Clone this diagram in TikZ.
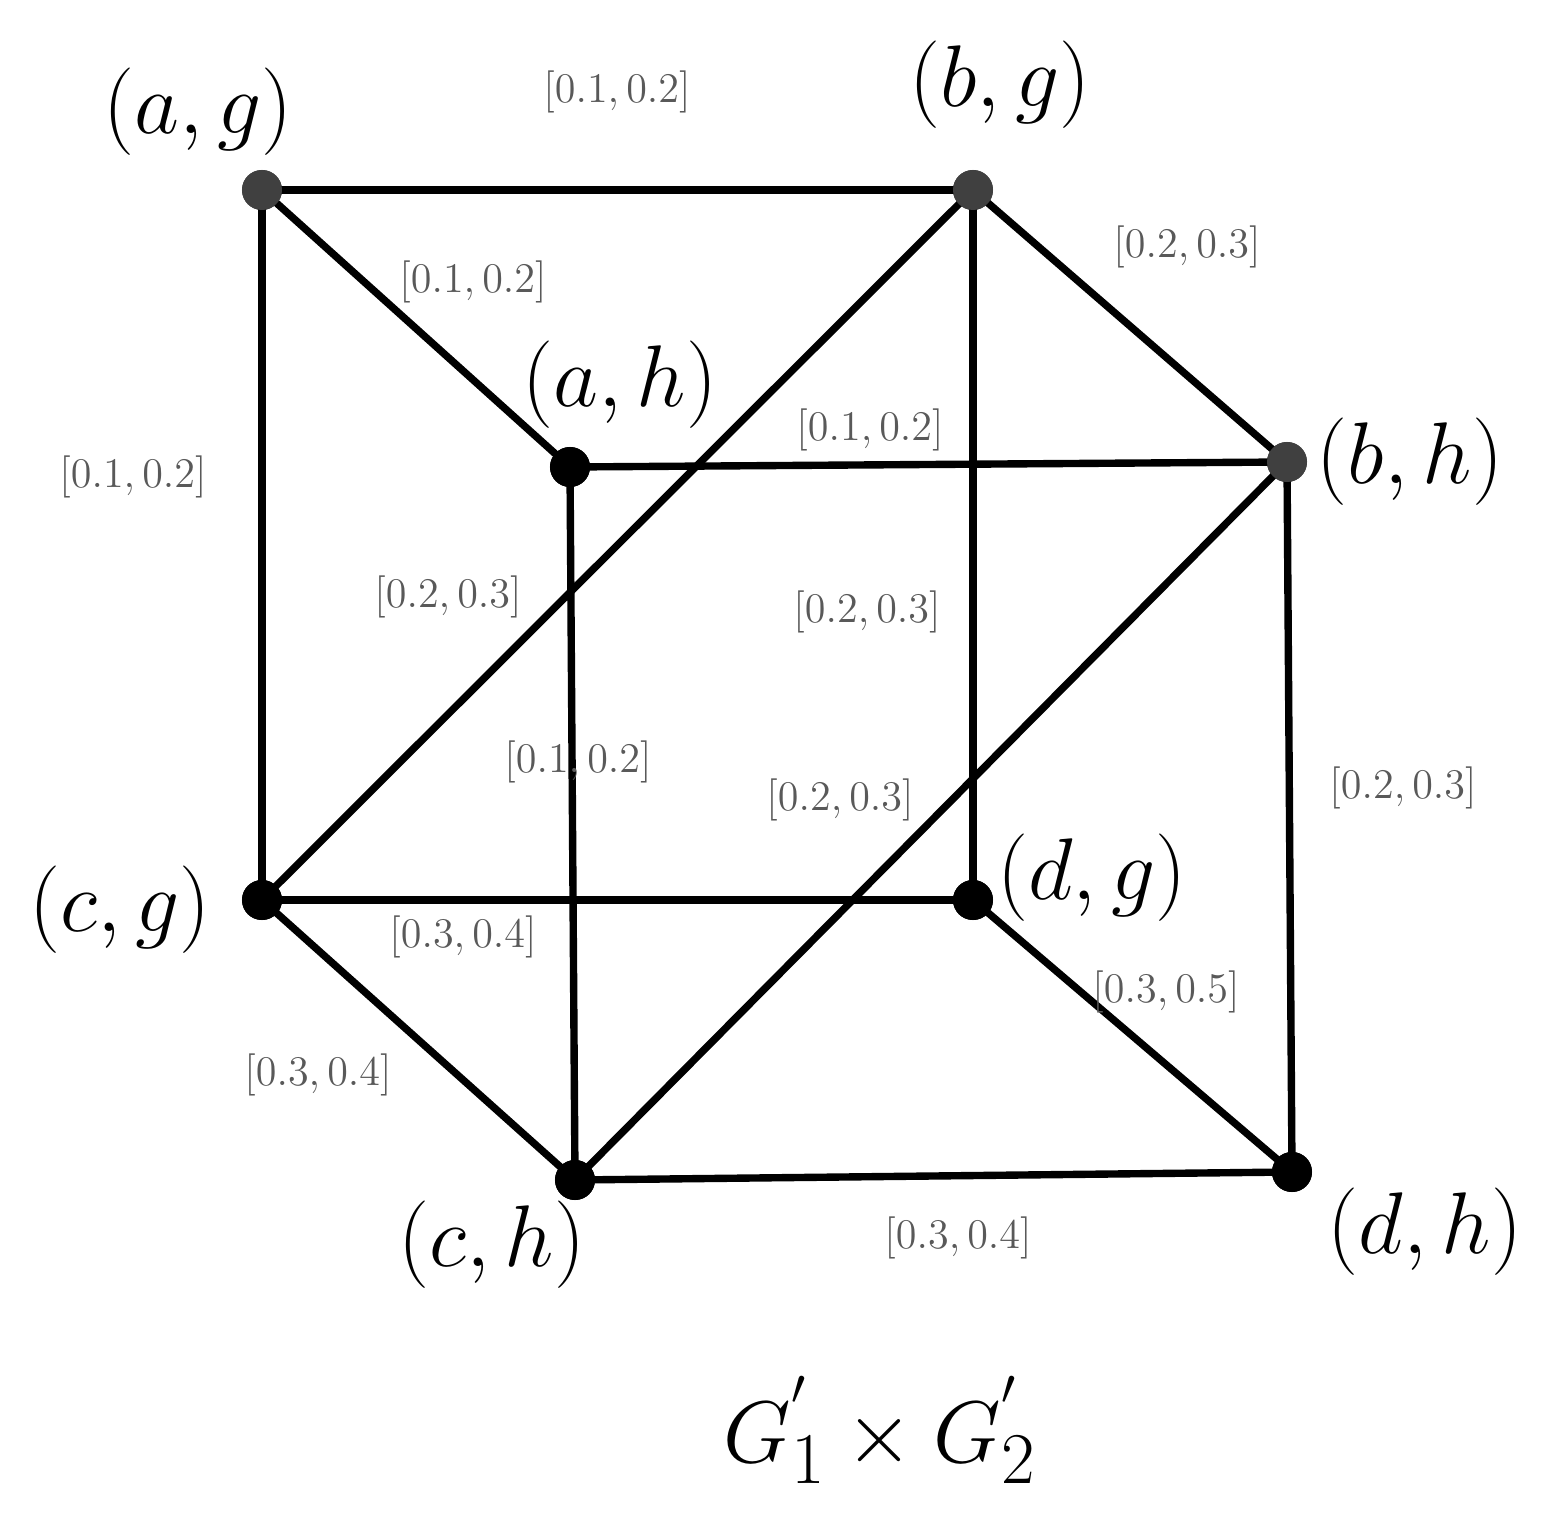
\documentclass[tikz,border=0pt]{standalone}
\begin{document}
\begin{tikzpicture}[x=0.01cm,y=-0.01cm,
 vtx/.style={circle,inner sep=0pt,minimum size=0.4cm},
 vl/.style={font=\fontsize{26}{30}\selectfont},
 el/.style={font=\fontsize{12.5}{14}\selectfont,text=black!65},
 edge/.style={line width=2.1pt}]
\useasboundingbox (0,0) rectangle (1551,1519);
\node[vtx,fill=black!75] (ag) at (262,190) {};
\node[vtx,fill=black!75] (bg) at (973,190) {};
\node[vtx,fill=black] (ah) at (570,467) {};
\node[vtx,fill=black!75] (bh) at (1287,462) {};
\node[vtx,fill=black] (cg) at (262,900) {};
\node[vtx,fill=black] (dg) at (973,900) {};
\node[vtx,fill=black] (ch) at (575,1180) {};
\node[vtx,fill=black] (dh) at (1292,1172) {};
\begin{scope}[on background layer/.style={}]
\foreach \u/\v in {ag/bg,ag/ah,ag/cg,bg/cg,bg/bh,bg/dg,ah/bh,ah/ch,bh/ch,bh/dh,cg/dg,cg/ch,dg/dh,ch/dh}
  \draw[edge] (\u.center) -- (\v.center);
\end{scope}
\foreach \n in {ag,bg,bh}{\fill[black!75] (\n) circle (0.2cm);}
\foreach \n in {ah,cg,dg,ch,dh}{\fill[black] (\n) circle (0.2cm);}
\node[vl] (lag) at (198,112) {$(a,g)$};
\node[vl] (lbg) at (1000,85) {$(b,g)$};
\node[vl] (lah) at (620,385) {$(a,h)$};
\node[vl] (lbh) at (1410,462) {$(b,h)$};
\node[vl] (lcg) at (120,910) {$(c,g)$};
\node[vl] (ldg) at (1092,878) {$(d,g)$};
\node[vl] (lch) at (492,1245) {$(c,h)$};
\node[vl] (ldh) at (1425,1232) {$(d,h)$};
\node[el] (e1) at (617,92) {$[0.1,0.2]$};
\node[el] (e2) at (473,282) {$[0.1,0.2]$};
\node[el] (e3) at (133,477) {$[0.1,0.2]$};
\node[el] (e4) at (870,430) {$[0.1,0.2]$};
\node[el] (e5) at (448,597) {$[0.2,0.3]$};
\node[el] (e6) at (867,612) {$[0.2,0.3]$};
\node[el] (e7) at (578,762) {$[0.1,0.2]$};
\node[el] (e8) at (840,800) {$[0.2,0.3]$};
\node[el] (e9) at (463,937) {$[0.3,0.4]$};
\node[el] (e10) at (318,1075) {$[0.3,0.4]$};
\node[el] (e11) at (1187,247) {$[0.2,0.3]$};
\node[el] (e12) at (1403,788) {$[0.2,0.3]$};
\node[el] (e13) at (1166,992) {$[0.3,0.5]$};
\node[el] (e14) at (958,1238) {$[0.3,0.4]$};
\node[font=\fontsize{30}{36}\selectfont] (title) at (880,1430) {$G_1^{'}\times G_2^{'}$};
\end{tikzpicture}
\end{document}
